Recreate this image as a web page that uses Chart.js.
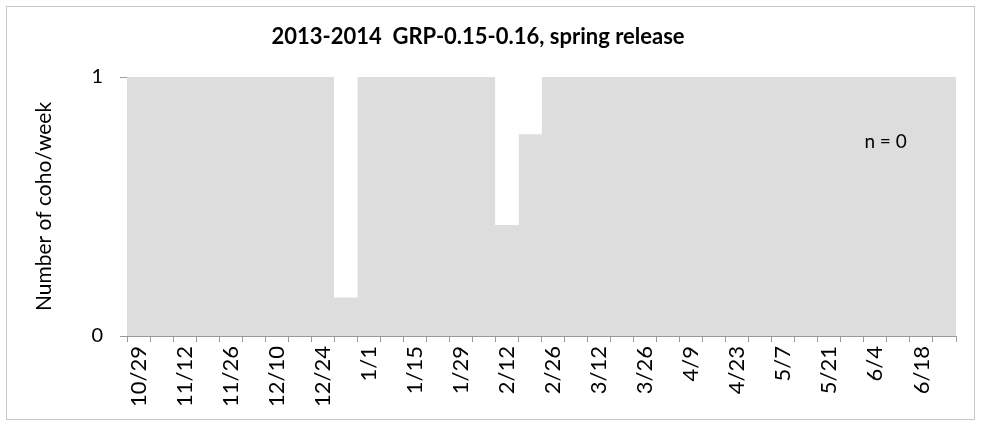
<!DOCTYPE html>
<html><head><meta charset="utf-8">
<script src="https://cdn.jsdelivr.net/npm/chart.js@4/dist/chart.umd.min.js"></script>
<style>html,body{margin:0;padding:0;background:#fff}#w{width:981px;height:426px;position:relative}</style>
</head><body><div id="w"><canvas id="c" width="981" height="426"></canvas></div>
<script>
const weeks = ['10/29','11/5','11/12','11/19','11/26','12/3','12/10','12/17','12/24','12/28',
  '1/1','1/8','1/15','1/22','1/29','2/5','2/12','2/19','2/26','3/5','3/12','3/19','3/26','4/2',
  '4/9','4/16','4/23','4/30','5/7','5/14','5/21','5/28','6/4','6/11','6/18','6/25'];
// sampled fraction of each week (gray); below 1 leaves a white gap above
const sampled = [1,1,1,1,1,1,1,1,1,0.15, 1,1,1,1,1,1,0.43,0.78,1,1, 1,1,1,1,1,1,1,1,1,1, 1,1,1,1,1,1];
const cohoPerWeek = weeks.map(() => 0);
const yTicks = [0, 1];
const titleText = '2013-2014  GRP-0.15-0.16, spring release';
const nText = 'n = 0';

const gaps = sampled.map(v => v < 1 ? [v, 1] : null);
const FONT = 'Lato, "Open Sans", sans-serif';

const bgPlugin = {
  id: 'bg',
  beforeDatasetsDraw(chart) {
    const a = chart.chartArea, ctx = chart.ctx;
    ctx.save(); ctx.fillStyle = '#dddddd';
    ctx.fillRect(a.left, a.top, a.right - a.left, a.bottom - a.top);
    ctx.restore();
  },
  afterDraw(chart) {
    const ctx = chart.ctx;
    ctx.save();
    ctx.strokeStyle = '#c6c6c6'; ctx.lineWidth = 1;
    ctx.strokeRect(6.5, 6.5, chart.width - 13, chart.height - 13);
    ctx.fillStyle = '#000'; ctx.font = '19px ' + FONT;
    ctx.textAlign = 'left'; ctx.textBaseline = 'middle';
    ctx.fillText(nText, chart.scales.x.getPixelForValue(31) + 12, chart.scales.y.getPixelForValue(0.75));
    ctx.restore();
  }
};

new Chart(document.getElementById('c'), {
  type: 'bar',
  data: {
    labels: weeks,
    datasets: [
      { label: 'gap', data: gaps, backgroundColor: '#ffffff', categoryPercentage: 1, barPercentage: 1, borderWidth: 0 },
      { label: 'coho', data: cohoPerWeek, backgroundColor: '#000000', categoryPercentage: 1, barPercentage: 0.6 }
    ]
  },
  plugins: [bgPlugin],
  options: {
    responsive: false, animation: false,
    grouped: false,
    layout: { padding: { left: 0, right: 25, top: 0, bottom: 0 } },
    plugins: {
      legend: { display: false }, tooltip: { enabled: false },
      title: { display: true, text: titleText, color: '#000',
        font: { family: FONT, size: 22, weight: 'bold' }, padding: { top: 23.8, bottom: 26.8 } }
    },
    scales: {
      x: {
        grid: { drawOnChartArea: false, offset: true, tickLength: 6, color: '#9a9a9a' },
        border: { color: '#9a9a9a' },
        ticks: { autoSkip: false, minRotation: 90, maxRotation: 90, padding: 4, color: '#000',
          font: { family: FONT, size: 22 },
          callback: (v, i) => i % 2 === 0 ? weeks[i] : '' },
        afterFit: s => { s.height = 426 - 336; }
      },
      y: {
        min: 0, max: 1,
        afterBuildTicks: s => { s.ticks = yTicks.map(v => ({ value: v })); },
        grid: { drawOnChartArea: false, tickLength: 7, color: '#9a9a9a' },
        border: { color: '#9a9a9a' },
        ticks: { padding: 17, color: '#000', font: { family: FONT, size: 20 } },
        title: { display: true, text: 'Number of coho/week', color: '#000',
          font: { family: FONT, size: 21 }, padding: { top: 31.4, bottom: 0 } },
        afterFit: s => { s.width = 127; }
      }
    }
  }
});
</script></body></html>
